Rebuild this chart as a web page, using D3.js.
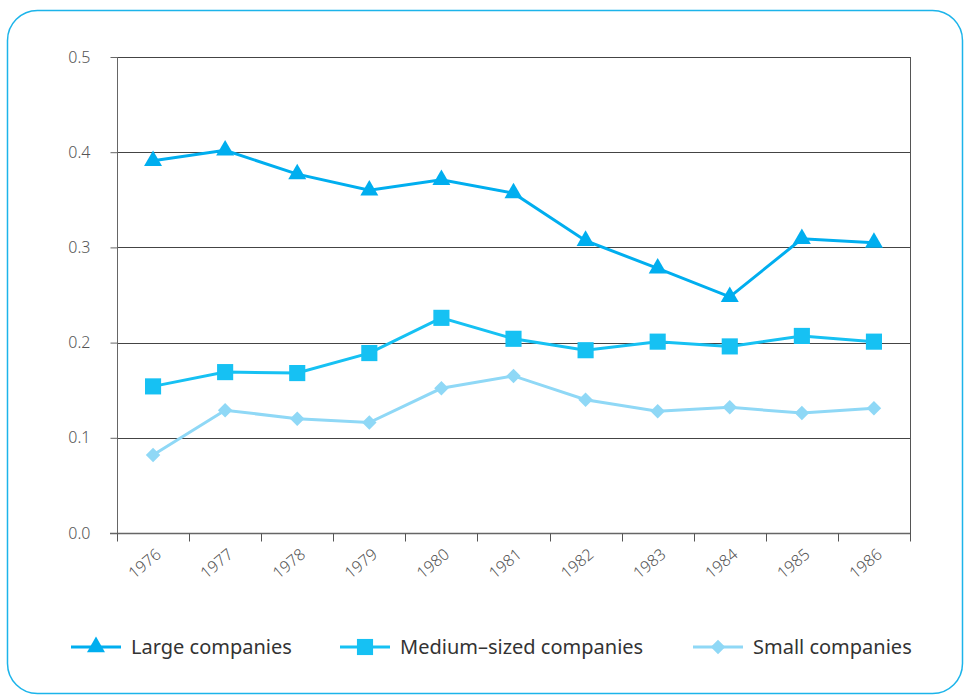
<!DOCTYPE html>
<html>
<head>
<meta charset="UTF-8">
<title>Companies chart</title>
<script src="https://cdn.jsdelivr.net/npm/d3@7"></script>
<style>
body { margin: 0; background: #fff; }
.tick text { font-family: "Noto Sans", sans-serif; font-weight: 300; fill: #555; }
.legend text { font-family: "Noto Sans", sans-serif; font-weight: 400; fill: #333; }
</style>
</head>
<body>
<div id="vis"></div>
<script>
// data
var years = ["1976","1977","1978","1979","1980","1981","1982","1983","1984","1985","1986"];
var large  = [0.391, 0.402, 0.377, 0.360, 0.371, 0.357, 0.307, 0.278, 0.248, 0.309, 0.305];
var medium = [0.154, 0.169, 0.168, 0.189, 0.226, 0.204, 0.192, 0.201, 0.196, 0.207, 0.201];
var small  = [0.082, 0.129, 0.120, 0.116, 0.152, 0.165, 0.140, 0.128, 0.132, 0.126, 0.131];
var yTicks = [0.0, 0.1, 0.2, 0.3, 0.4, 0.5];
var seriesNames = ["Large companies", "Medium\u2013sized companies", "Small companies"];

var W = 964, H = 696;
var margin = {top: 57, left: 117, right: 54, bottom: 163};

var svg = d3.select("#vis").append("svg")
  .attr("width", W)
  .attr("height", H);

// rounded frame
svg.append("rect")
  .attr("x", 7.5).attr("y", 10.5)
  .attr("width", 955).attr("height", 683)
  .attr("rx", 30).attr("ry", 30)
  .attr("fill", "none")
  .attr("stroke", "#1cb4ea")
  .attr("stroke-width", 1.5);

var x = d3.scaleBand().domain(years)
  .range([margin.left, W - margin.right]);
var y = d3.scaleLinear().domain([0, 0.5])
  .range([H - margin.bottom, margin.top]);

var g = svg.append("g");

// gridlines
g.selectAll(".grid").data(yTicks.slice(1))
  .enter().append("line")
  .attr("class", "grid")
  .attr("x1", margin.left)
  .attr("x2", W - margin.right)
  .attr("y1", function(d) { return Math.round(y(d)) + 0.5; })
  .attr("y2", function(d) { return Math.round(y(d)) + 0.5; })
  .attr("stroke", "#444")
  .attr("stroke-width", 1);

// right border
g.append("line")
  .attr("x1", W - margin.right + 0.5).attr("x2", W - margin.right + 0.5)
  .attr("y1", y(0.5)).attr("y2", y(0) + 8)
  .attr("stroke", "#555");

// y axis
var yAxis = g.append("g")
  .attr("transform", "translate(" + (margin.left + 0.5) + ",0)")
  .call(d3.axisLeft(y).tickValues(yTicks).tickSize(7).tickPadding(20)
    .tickFormat(d3.format(".1f")));
yAxis.select(".domain").attr("stroke", "#666").attr("d", "M0," + y(0.5) + "V" + (y(0) + 8));
yAxis.selectAll(".tick line").attr("stroke", "#666");
yAxis.selectAll(".tick text").style("font-size", "16px");

// x axis: ticks at band edges
var xAxisG = g.append("g")
  .attr("transform", "translate(0," + (Math.round(y(0)) + 0.5) + ")");
xAxisG.append("line")
  .attr("x1", margin.left - 7).attr("x2", W - margin.right)
  .attr("stroke", "#666").attr("stroke-width", 1.5);
xAxisG.selectAll(".xt").data(years)
  .enter().append("line")
  .attr("x1", function(d) { return Math.round(x(d)) + 0.5; })
  .attr("x2", function(d) { return Math.round(x(d)) + 0.5; })
  .attr("y1", 0).attr("y2", 8)
  .attr("stroke", "#555");
xAxisG.append("line")
  .attr("x1", W - margin.right + 0.5).attr("x2", W - margin.right + 0.5)
  .attr("y1", 0).attr("y2", 8)
  .attr("stroke", "#555");
xAxisG.selectAll(".xl").data(years)
  .enter().append("text")
  .attr("class", "xl")
  .attr("text-anchor", "end")
  .attr("transform", function(d) {
    return "translate(" + (x(d) + x.bandwidth() / 2 + 2) + ",14) rotate(-40)";
  })
  .style("font-family", '"Noto Sans", sans-serif')
  .style("font-weight", 300)
  .style("font-size", "16px")
  .attr("fill", "#555")
  .attr("dy", "0.7em")
  .text(function(d) { return d; });

var colors = ["#00aeef", "#16c1f3", "#8fd8f6"];
var shapes = [d3.symbolTriangle, d3.symbolSquare, d3.symbolSquare];
var sizes = [140, 260, 105];
var rots = [0, 0, 45];
var allData = [large, medium, small];

var line = d3.line()
  .x(function(d, i) { return x(years[i]) + x.bandwidth() / 2; })
  .y(function(d) { return y(d); });

allData.forEach(function(vals, k) {
  g.append("path")
    .datum(vals)
    .attr("d", line)
    .attr("fill", "none")
    .attr("stroke", colors[k])
    .attr("stroke-width", 3);
  g.selectAll(".pt" + k).data(vals)
    .enter().append("path")
    .attr("d", d3.symbol().type(shapes[k]).size(sizes[k]))
    .attr("transform", function(d, i) {
      return "translate(" + (x(years[i]) + x.bandwidth() / 2) + "," + y(d) + ") rotate(" + rots[k] + ")";
    })
    .attr("fill", colors[k]);
});

// legend
var legendX = [71, 340, 693];
var legend = svg.append("g").attr("class", "legend");
seriesNames.forEach(function(name, k) {
  var lg = legend.append("g").attr("transform", "translate(" + legendX[k] + ",647)");
  lg.append("line").attr("x1", 0).attr("x2", 50)
    .attr("stroke", colors[k]).attr("stroke-width", 3);
  lg.append("path")
    .attr("d", d3.symbol().type(shapes[k]).size(sizes[k]))
    .attr("transform", "translate(25,0) rotate(" + rots[k] + ")")
    .attr("fill", colors[k]);
  lg.append("text")
    .attr("x", 60).attr("dy", "0.35em")
    .style("font-size", "20px")
    .text(name);
});
</script>
</body>
</html>
